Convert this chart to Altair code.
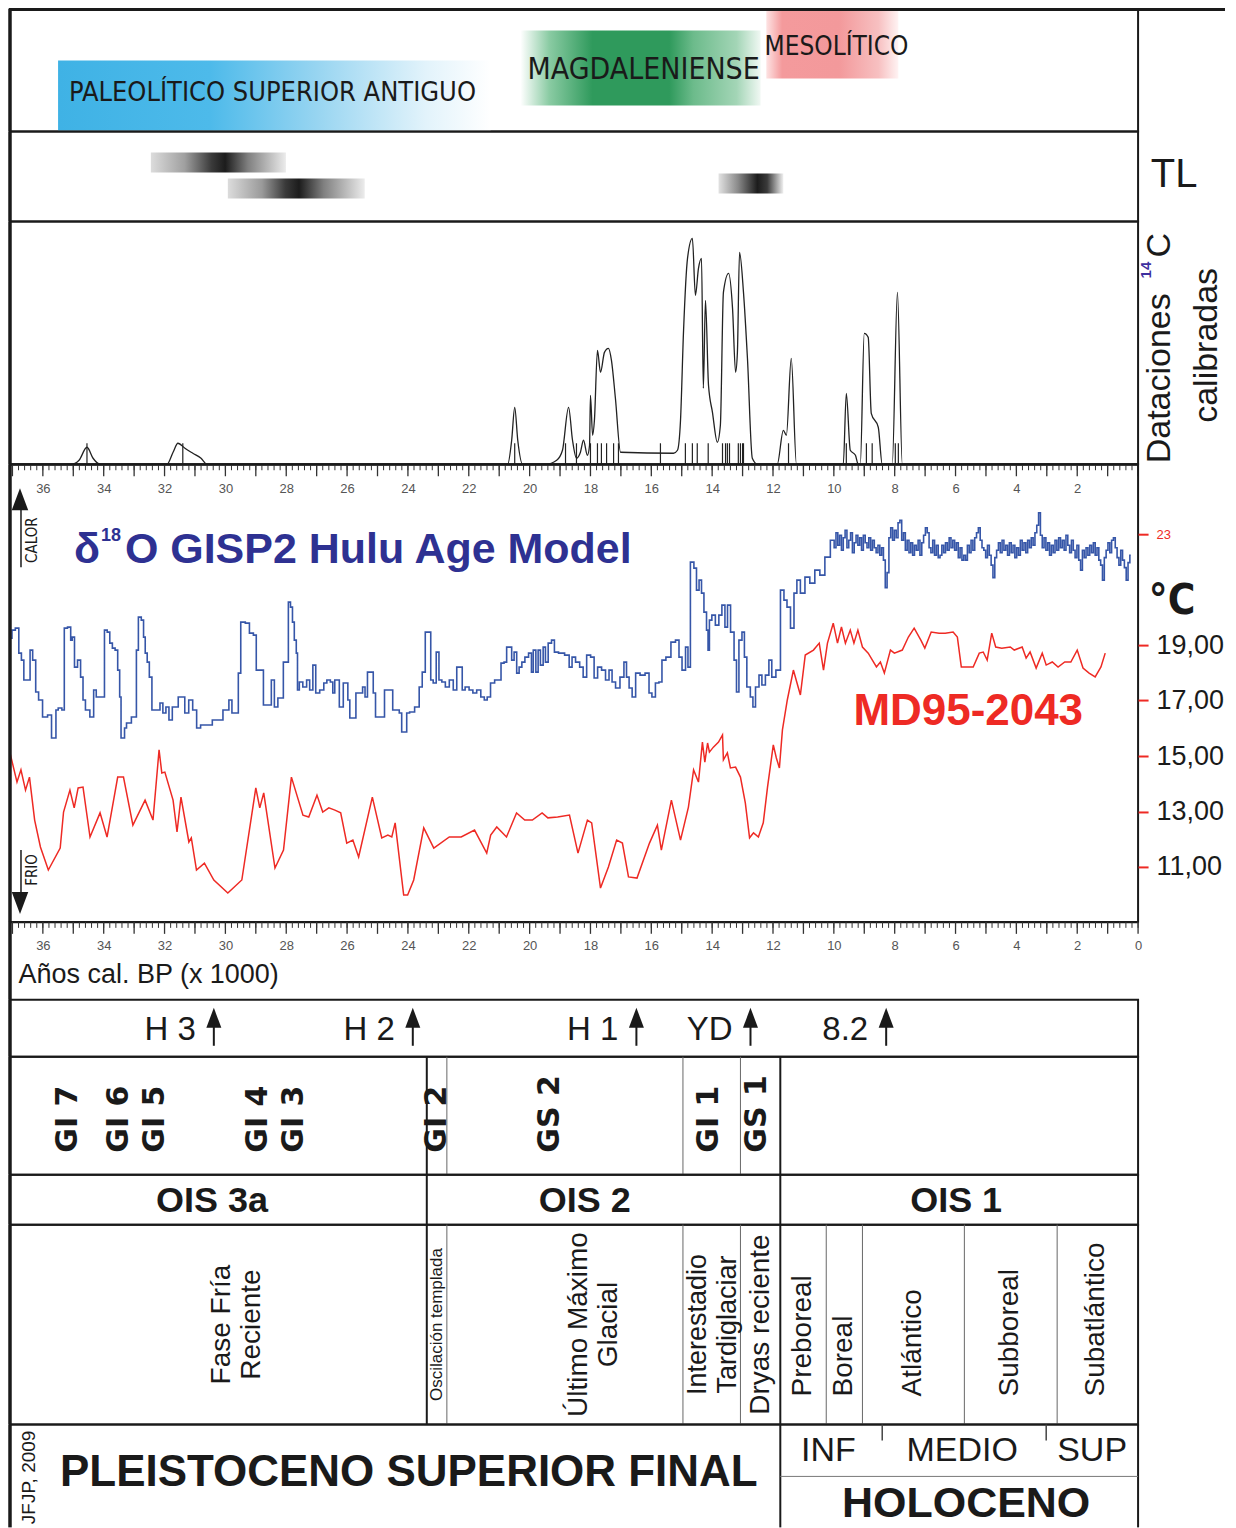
import altair as alt
import pandas as pd

# ------------------------------------------------------------------ data
AGE_DOMAIN = [0, 37.08]                      # ka cal BP
AXIS_LABELS_TOP = [36, 34, 32, 30, 28, 26, 24, 22, 20, 18, 16, 14, 12, 10, 8, 6, 4, 2]
AXIS_LABELS_BOTTOM = AXIS_LABELS_TOP + [0]
MINOR_TICKS = [round(0.2 * i, 1) for i in range(186)]
MAJOR_TICKS = list(range(38))

CULT_NAMES = ["PALEOLÍTICO SUPERIOR ANTIGUO", "MAGDALENIENSE", "MESOLÍTICO"]
CULT_START = [35.50, 20.30, 12.22]
CULT_END = [21.28, 12.41, 7.88]
CULT_LABEL_AGE = [35.14, 20.07, 12.28]

TL_START = [32.45, 29.92, 13.79]
TL_END = [28.01, 25.42, 11.66]

C14_CURVE = [(37.08, 0), (35.04, 0), (34.81, 4), (34.55, 17), (34.35, 6), (34.12, 0), (31.92, 0),
             (31.72, 12), (31.56, 21), (31.33, 16), (31.07, 11), (30.80, 6), (30.61, 0), (20.72, 0),
             (20.59, 24), (20.49, 57), (20.39, 24), (20.23, 0), (19.47, 0), (19.11, 4), (18.92, 14),
             (18.72, 57), (18.59, 24), (18.46, 6), (18.33, 12), (18.23, 24), (18.10, 9), (18.03, 19),
             (18.00, 69), (17.93, 29), (17.87, 44), (17.77, 114), (17.67, 92), (17.54, 112), (17.41, 116),
             (17.31, 104), (17.18, 66), (17.01, 12), (15.27, 11), (15.14, 14), (15.04, 44), (14.94, 134),
             (14.81, 206), (14.65, 226), (14.55, 169), (14.45, 196), (14.35, 206), (14.29, 76), (14.22, 164),
             (14.12, 79), (13.99, 52), (13.83, 22), (13.73, 39), (13.63, 172), (13.46, 191), (13.33, 156),
             (13.23, 92), (13.17, 112), (13.10, 212), (12.97, 172), (12.84, 106), (12.68, 6), (12.51, 0),
             (11.86, 0), (11.66, 34), (11.56, 29), (11.40, 106), (11.23, 0), (9.69, 0), (9.59, 71),
             (9.46, 14), (9.29, 9), (9.20, 0), (9.13, 0), (9.00, 131), (8.87, 127), (8.77, 51), (8.54, 37),
             (8.41, 0), (8.08, 0), (7.91, 172), (7.75, 0), (0.0, 0)]
C14_DATES = [34.55, 31.40, 20.49, 18.82, 18.46, 18.00, 17.77, 17.64, 17.47, 17.24, 17.08, 15.70, 14.88,
             14.65, 14.49, 14.13, 13.66, 13.56, 13.50, 13.43, 13.14, 13.07, 13.00, 12.97, 11.49, 9.59,
             8.93, 8.74, 7.98, 7.88]

MD95_SST = [(37.08, 15.11), (36.85, 14.06), (36.72, 14.50), (36.57, 13.77), (36.44, 14.24), (36.27, 12.69),
            (36.08, 11.72), (35.82, 10.89), (35.43, 11.68), (35.32, 12.98), (35.11, 13.77), (34.97, 13.13),
            (34.84, 13.85), (34.68, 13.88), (34.45, 12.08), (34.12, 12.95), (33.89, 12.08), (33.54, 14.24),
            (33.35, 14.24), (33.04, 12.51), (32.64, 13.41), (32.38, 12.69), (32.18, 15.22), (32.09, 14.39),
            (31.99, 14.42), (31.72, 13.41), (31.59, 12.26), (31.46, 13.52), (31.20, 11.90), (31.12, 12.05),
            (30.95, 10.89), (30.69, 11.14), (30.38, 10.53), (29.92, 10.06), (29.46, 10.53), (29.00, 13.85),
            (28.87, 13.13), (28.74, 13.67), (28.37, 10.96), (28.09, 11.61), (27.83, 14.24), (27.45, 12.87),
            (27.26, 12.80), (26.99, 13.59), (26.80, 12.98), (26.60, 13.13), (26.40, 13.05), (26.21, 12.95),
            (26.01, 11.86), (25.81, 11.97), (25.62, 11.36), (25.17, 13.52), (24.86, 12.05), (24.66, 12.15),
            (24.53, 12.08), (24.42, 12.59), (24.14, 9.99), (24.01, 9.99), (23.81, 10.53), (23.48, 12.41),
            (23.15, 11.68), (22.64, 12.08), (22.25, 12.08), (21.81, 12.33), (21.41, 11.50), (21.28, 12.15),
            (21.08, 12.44), (20.76, 12.08), (20.43, 12.95), (20.16, 12.69), (19.91, 12.69), (19.59, 12.95),
            (19.40, 12.77), (19.08, 12.80), (18.69, 12.87), (18.41, 11.50), (18.10, 12.69), (17.96, 12.59),
            (17.67, 10.24), (17.41, 11.00), (17.14, 11.97), (16.95, 11.86), (16.75, 10.64), (16.47, 10.60),
            (16.06, 11.86), (15.80, 12.51), (15.67, 11.61), (15.34, 13.41), (15.04, 11.97), (14.78, 13.16),
            (14.61, 14.50), (14.45, 14.06), (14.32, 15.50), (14.24, 14.78), (14.15, 15.47), (14.09, 15.14),
            (13.96, 15.32), (13.79, 15.50), (13.66, 15.76), (13.63, 14.86), (13.50, 15.11), (13.40, 14.57),
            (13.23, 14.60), (13.07, 14.24), (12.91, 13.31), (12.77, 12.05), (12.64, 12.23), (12.48, 12.08),
            (12.32, 12.59), (12.18, 13.88), (11.99, 15.40), (11.89, 14.93), (11.79, 14.57), (11.69, 15.94),
            (11.53, 17.02), (11.33, 18.10), (11.10, 17.20), (10.94, 18.64), (10.67, 18.82), (10.48, 19.07),
            (10.34, 18.10), (10.21, 19.07), (10.02, 19.79), (9.88, 19.07), (9.75, 19.65), (9.62, 19.07),
            (9.46, 19.54), (9.34, 19.07), (9.21, 19.54), (9.06, 18.93), (8.87, 18.71), (8.60, 18.21),
            (8.47, 18.39), (8.34, 17.99), (8.14, 18.82), (8.01, 18.71), (7.75, 18.82), (7.55, 19.29),
            (7.36, 19.61), (7.14, 19.18), (7.01, 18.89), (6.80, 19.47), (6.54, 19.43), (6.34, 19.43),
            (6.08, 19.47), (5.94, 19.29), (5.81, 18.21), (5.62, 18.21), (5.42, 18.21), (5.22, 18.71),
            (5.09, 18.75), (4.96, 18.46), (4.81, 19.43), (4.68, 18.93), (4.48, 18.89), (4.20, 18.93),
            (4.07, 18.82), (3.81, 18.93), (3.68, 18.53), (3.55, 18.75), (3.35, 18.17), (3.15, 18.71),
            (3.02, 18.28), (2.82, 18.39), (2.63, 18.21), (2.41, 18.39), (2.21, 18.39), (2.00, 18.82),
            (1.81, 18.17), (1.61, 17.99), (1.41, 17.85), (1.22, 18.21), (1.08, 18.71)]

GISP2_GLACIAL = [(37.05, -38.52), (36.98, -38.20), (36.83, -38.12), (36.75, -39.12), (36.66, -39.40),
                 (36.59, -40.20), (36.44, -40.20), (36.40, -39.00), (36.27, -39.40), (36.20, -40.68),
                 (36.08, -41.00), (35.94, -41.68), (35.75, -41.60), (35.68, -42.52), (35.58, -42.52),
                 (35.56, -41.40), (35.43, -41.32), (35.32, -41.40), (35.27, -38.12), (35.11, -38.08),
                 (35.06, -38.60), (35.01, -38.48), (34.91, -39.68), (34.81, -39.40), (34.71, -40.08),
                 (34.65, -41.00), (34.55, -41.40), (34.36, -41.68), (34.30, -40.60), (34.19, -40.88),
                 (34.02, -40.88), (33.93, -38.20), (33.84, -38.28), (33.76, -38.72), (33.67, -38.92),
                 (33.58, -39.00), (33.50, -39.80), (33.45, -40.88), (33.41, -42.52), (33.35, -42.52),
                 (33.28, -42.12), (33.22, -41.92), (32.96, -41.68), (32.89, -39.00), (32.83, -37.68),
                 (32.70, -37.80), (32.68, -38.48), (32.59, -39.12), (32.55, -39.48), (32.45, -40.08),
                 (32.38, -41.40), (32.18, -41.40), (32.12, -41.12), (31.99, -41.52), (31.92, -41.28),
                 (31.79, -41.80), (31.70, -41.28), (31.40, -40.88), (31.27, -41.52), (31.14, -41.00),
                 (31.01, -41.40), (30.88, -42.12), (30.75, -42.00), (30.11, -41.80), (30.05, -41.40),
                 (29.92, -41.40), (29.85, -41.00), (29.72, -41.52), (29.59, -41.52), (29.56, -39.92),
                 (29.43, -37.88), (29.26, -37.92), (29.16, -38.32), (29.00, -38.40), (28.97, -39.80),
                 (28.80, -39.80), (28.70, -41.20), (28.54, -41.20), (28.44, -40.20), (28.34, -41.28),
                 (28.21, -40.92), (28.14, -40.92), (28.05, -39.48), (27.96, -39.48), (27.90, -37.08),
                 (27.82, -37.28), (27.77, -37.88), (27.70, -38.60), (27.64, -39.12), (27.62, -40.60),
                 (27.52, -40.28), (27.39, -40.48), (27.27, -40.20), (27.19, -40.60), (27.06, -39.60),
                 (27.00, -40.72), (26.80, -40.60), (26.73, -40.32), (26.60, -40.20), (26.50, -40.28),
                 (26.44, -40.72), (26.37, -40.20), (26.27, -40.20), (26.24, -41.28), (26.14, -41.28),
                 (26.11, -40.32), (26.01, -40.32), (25.94, -41.00), (25.88, -41.72), (25.75, -41.72),
                 (25.67, -40.72), (25.53, -40.72), (25.45, -40.48), (25.37, -40.88), (25.29, -39.88),
                 (25.17, -39.88), (25.11, -40.72), (25.02, -41.68), (24.81, -41.68), (24.73, -40.60),
                 (24.53, -40.60), (24.47, -41.40), (24.33, -41.40), (24.24, -41.52), (24.17, -42.28),
                 (24.07, -42.28), (24.01, -41.52), (23.88, -41.48), (23.68, -41.28), (23.58, -40.48),
                 (23.48, -39.88), (23.38, -38.28), (23.28, -38.28), (23.22, -40.20), (23.12, -40.32),
                 (23.02, -39.08), (22.94, -40.20), (22.83, -40.28), (22.71, -40.48), (22.57, -40.20),
                 (22.45, -40.60), (22.34, -39.68), (22.25, -39.68), (22.18, -40.60), (22.06, -40.48),
                 (21.92, -40.60), (21.81, -40.72), (21.67, -40.60), (21.54, -40.88), (21.44, -41.00),
                 (21.35, -40.88), (21.22, -40.32), (21.08, -40.20), (20.99, -40.20), (20.89, -39.52),
                 (20.79, -39.48), (20.72, -38.88), (20.62, -38.88), (20.56, -39.40), (20.46, -39.08),
                 (20.39, -39.92), (20.30, -39.68), (20.21, -39.48), (20.10, -39.28), (19.97, -39.12),
                 (19.91, -39.88), (19.85, -39.00), (19.74, -39.88), (19.70, -39.00), (19.59, -39.60),
                 (19.52, -38.88), (19.44, -39.48), (19.34, -38.72), (19.22, -38.60), (19.15, -39.08),
                 (18.95, -39.12), (18.75, -39.20), (18.65, -39.68), (18.56, -39.28), (18.42, -39.48),
                 (18.29, -39.68), (18.19, -40.08), (18.06, -39.20), (17.93, -39.28), (17.83, -40.12),
                 (17.70, -39.68), (17.57, -39.80), (17.44, -40.20), (17.34, -39.80), (17.24, -40.28),
                 (17.11, -40.52), (16.95, -40.08), (16.85, -39.48), (16.78, -40.08), (16.68, -40.52),
                 (16.58, -40.88), (16.45, -39.92), (16.29, -40.00), (16.12, -39.92), (16.03, -40.72),
                 (15.93, -40.88), (15.80, -40.32), (15.70, -40.28), (15.60, -39.40), (15.44, -39.28),
                 (15.27, -38.68), (15.14, -38.60), (15.04, -39.28), (14.94, -39.80), (14.81, -38.88),
                 (14.78, -39.68), (14.65, -35.48), (14.55, -35.72), (14.48, -36.60), (14.38, -36.20),
                 (14.32, -36.72), (14.22, -37.48), (14.15, -38.20), (14.12, -39.00), (14.06, -37.80),
                 (13.96, -37.60), (13.83, -38.00), (13.73, -37.60), (13.63, -37.20), (13.53, -38.08),
                 (13.46, -37.20), (13.33, -38.28), (13.23, -39.40), (13.17, -40.68), (13.07, -38.60),
                 (12.97, -38.28), (12.91, -39.28), (12.81, -40.48), (12.68, -40.88), (12.64, -41.28),
                 (12.51, -40.48), (12.41, -40.00), (12.32, -40.40), (12.18, -40.00), (12.09, -39.40),
                 (11.99, -40.08), (11.82, -39.80), (11.69, -36.60), (11.59, -37.00), (11.49, -37.28),
                 (11.36, -38.12), (11.26, -36.72), (11.17, -36.20), (11.03, -36.72), (10.87, -36.08),
                 (10.71, -36.32), (10.54, -35.80), (10.38, -36.00), (10.21, -35.28), (10.02, -34.60)]

GISP2_HOLOCENE = [(9.96, -34.9), (9.90, -34.3), (9.84, -34.8), (9.78, -34.4), (9.72, -35.0), (9.66, -34.5),
                  (9.60, -34.2), (9.54, -34.9), (9.48, -34.6), (9.42, -34.3), (9.36, -35.1), (9.30, -34.7),
                  (9.24, -34.4), (9.18, -34.8), (9.12, -34.5), (9.06, -35.0), (9.00, -34.4), (8.94, -34.7),
                  (8.88, -34.9), (8.82, -34.5), (8.76, -35.0), (8.70, -34.6), (8.64, -34.9), (8.58, -35.1),
                  (8.52, -34.8), (8.46, -35.2), (8.40, -34.9), (8.34, -35.4), (8.28, -36.5), (8.22, -35.9),
                  (8.16, -34.5), (8.10, -34.1), (8.04, -34.6), (7.98, -34.2), (7.92, -34.5), (7.86, -33.9),
                  (7.80, -33.8), (7.74, -34.6), (7.68, -34.3), (7.62, -35.0), (7.56, -34.6), (7.50, -35.1),
                  (7.44, -34.7), (7.38, -35.2), (7.32, -34.8), (7.26, -35.0), (7.20, -34.6), (7.14, -35.2),
                  (7.08, -34.7), (7.02, -34.4), (6.96, -34.1), (6.90, -34.3), (6.84, -34.9), (6.78, -35.1),
                  (6.72, -34.6), (6.66, -35.2), (6.60, -34.8), (6.54, -35.3), (6.48, -35.2), (6.42, -34.8),
                  (6.36, -35.1), (6.30, -34.7), (6.24, -35.0), (6.18, -34.5), (6.12, -34.9), (6.06, -34.6),
                  (6.00, -35.0), (5.94, -34.7), (5.88, -35.3), (5.82, -34.9), (5.76, -35.4), (5.70, -35.2),
                  (5.64, -35.4), (5.58, -34.8), (5.52, -35.1), (5.46, -34.6), (5.40, -35.0), (5.34, -34.5),
                  (5.28, -34.3), (5.22, -34.1), (5.16, -34.6), (5.10, -34.9), (5.04, -35.0), (4.98, -35.3),
                  (4.92, -34.8), (4.86, -35.2), (4.80, -35.6), (4.74, -36.1), (4.68, -35.3), (4.62, -35.0),
                  (4.56, -34.7), (4.50, -35.1), (4.44, -34.6), (4.38, -35.0), (4.32, -34.8), (4.26, -35.2),
                  (4.20, -34.7), (4.14, -35.1), (4.08, -34.8), (4.02, -35.3), (3.96, -34.9), (3.90, -35.2),
                  (3.84, -34.6), (3.78, -35.0), (3.72, -34.7), (3.66, -35.1), (3.60, -34.6), (3.54, -34.9),
                  (3.48, -34.5), (3.42, -34.8), (3.36, -34.3), (3.30, -34.0), (3.24, -33.5), (3.18, -34.4),
                  (3.12, -34.9), (3.06, -34.5), (3.00, -35.0), (2.94, -34.7), (2.88, -35.2), (2.82, -34.8),
                  (2.76, -35.1), (2.70, -34.6), (2.64, -35.0), (2.58, -34.5), (2.52, -34.9), (2.46, -34.6),
                  (2.40, -35.0), (2.34, -34.4), (2.28, -34.8), (2.22, -35.1), (2.16, -34.6), (2.10, -35.0),
                  (2.04, -35.3), (1.98, -34.8), (1.92, -35.4), (1.86, -35.8), (1.80, -35.0), (1.74, -35.3),
                  (1.68, -34.9), (1.62, -35.2), (1.56, -34.8), (1.50, -35.1), (1.44, -34.7), (1.38, -35.2),
                  (1.32, -34.9), (1.26, -35.4), (1.20, -35.6), (1.14, -36.2), (1.08, -35.3), (1.02, -35.0),
                  (0.96, -34.7), (0.90, -35.1), (0.84, -34.6), (0.78, -34.5), (0.72, -34.9), (0.66, -35.3),
                  (0.60, -35.6), (0.54, -35.0), (0.48, -35.4), (0.42, -35.7), (0.36, -36.2), (0.30, -35.5),
                  (0.24, -35.2)]

TEMP_TICKS = [11, 13, 15, 17, 19, 23]

EVENT_NAMES = ["H 3", "H 2", "H 1", "YD", "8.2"]
EVENT_AGES = [30.38, 23.84, 16.49, 12.74, 8.28]

GI_NAMES = ["GI 7", "GI 6", "GI 5", "GI 4", "GI 3", "GI 2", "GS 2", "GI 1", "GS 1"]
GI_AGES = [35.17, 33.50, 32.32, 28.93, 27.75, 23.05, 19.34, 14.09, 12.51]

OIS_NAMES = ["OIS 3a", "OIS 2", "OIS 1"]
OIS_LABEL_AGE = [30.44, 18.19, 5.98]
OIS_BOUNDS = [23.38, 11.76]
STAGE_THIN = [22.72, 14.96, 13.07]
HOLO_PHASE_BOUNDS = [10.25, 9.06, 5.71, 2.66]

PLEI_PHASES = ["Fase Fría\nReciente", "Oscilación templada", "Último Máximo\nGlacial",
               "Interestadio\nTardiglaciar", "Dryas reciente"]
PLEI_PHASE_AGE = [30.12, 23.03, 18.39, 14.48, 12.40]     # position of the first text line
PLEI_PHASE_SIZE = [28, 17, 28, 27, 28]
HOLO_PHASES = ["Preboreal", "Boreal", "Atlántico", "Subboreal", "Subatlántico"]
HOLO_PHASE_AGE = [11.00, 9.66, 7.39, 4.20, 1.38]

HOLO_SUB = ["INF", "MEDIO", "SUP"]
HOLO_SUB_AGE = [10.18, 5.78, 1.51]
HOLO_SUB_BOUNDS = [8.41, 3.02]

# ------------------------------------------------------------------ style helpers
FONT = "Liberation Sans, Arial, Helvetica, sans-serif"
NARROW = "Liberation Sans Narrow, Arial Narrow, DejaVu Sans Condensed, sans-serif"
WIDEBOLD = "DejaVu Sans, Verdana, sans-serif"
INK = "#1a1a1a"
RED = "#ee2a24"
BLUE = "#3656a8"
W = 1129
XS = alt.Scale(domain=AGE_DOMAIN, reverse=True, nice=False, zero=False)
ONE = pd.DataFrame({"k": [0]})
ARROW_UP = "M0,-1L0.75,1L-0.75,1Z"
ARROW_DOWN = "M0,1L0.75,-1L-0.75,-1Z"


def xq(field, axis=None):
    return alt.X(field, type="quantitative", scale=XS, axis=axis)


def left_border(h):
    return alt.Chart(ONE).mark_rule(color=INK, strokeWidth=3.5).encode(
        x=alt.value(0), y=alt.value(0), y2=alt.value(h))


def vlines(ages, y0, y1, width, color):
    return alt.Chart(pd.DataFrame({"age": ages})).mark_rule(color=color, strokeWidth=width).encode(
        x=xq("age"), y=alt.value(y0), y2=alt.value(y1))


def label(text, x, y, **kw):
    return alt.Chart(ONE).mark_text(text=text, **kw).encode(x=alt.value(x), y=alt.value(y))


def grad(stops):
    return alt.LinearGradient(gradient="linear",
                              stops=[alt.GradientStop(color=c, offset=o) for o, c in stops],
                              x1=0, x2=1, y1=0, y2=0)


def tick_rules(h, axis):
    minor = alt.Chart(pd.DataFrame({"age": MINOR_TICKS})).mark_rule(color="#333", strokeWidth=1).encode(
        x=xq("age", axis), y=alt.value(h), y2=alt.value(h + 6))
    major = alt.Chart(pd.DataFrame({"age": MAJOR_TICKS})).mark_rule(color="#333", strokeWidth=1.3).encode(
        x=xq("age", axis), y=alt.value(h), y2=alt.value(h + 12))
    return [minor, major]


H = [123, 90, 243, 458, 78, 57, 118, 50, 200, 103]

# ------------------------------------------------------------------ P1 cultures
cult = pd.DataFrame({"name": CULT_NAMES, "start": CULT_START, "end": CULT_END, "lab": CULT_LABEL_AGE})
CULT_STYLE = [
    (52, 122, [(0, "#3fb2e5"), (0.35, "#4dbaea"), (0.6, "#98d5f1"), (0.85, "#e2f3fb"), (1, "#ffffff")], 84, 27),
    (22, 97, [(0, "#ffffff"), (0.12, "#8acba3"), (0.3, "#2f9a5c"), (0.62, "#2f9a5c"), (0.72, "#6cbb8b"),
              (0.9, "#a3d5b6"), (1, "#f0f8f3")], 61, 30),
    (2, 70, [(0, "#fde3e3"), (0.12, "#f49a9c"), (0.55, "#f3999b"), (0.85, "#f7c0c1"), (1, "#fff3f3")], 38, 26),
]
p1_layers = []
for i, (y0, y1, stops, ty, fs) in enumerate(CULT_STYLE):
    p1_layers.append(alt.Chart(cult.iloc[[i]]).mark_rect(fill=grad(stops)).encode(
        x=xq("start"), x2="end", y=alt.value(y0), y2=alt.value(y1)))
for i, (y0, y1, stops, ty, fs) in enumerate(CULT_STYLE):
    p1_layers.append(alt.Chart(cult.iloc[[i]]).mark_text(align="left", baseline="middle", font=NARROW,
                                                          fontSize=fs, color=INK).encode(
        x=xq("lab"), y=alt.value(ty), text="name:N"))
p1_layers.append(alt.Chart(ONE).mark_rule(color=INK, strokeWidth=3).encode(
    x=alt.value(0), x2=alt.value(W + 87), y=alt.value(1)))
p1_layers.append(left_border(H[0]))
p1 = alt.layer(*p1_layers).properties(width=W, height=H[0])

# ------------------------------------------------------------------ P2 TL
tl = pd.DataFrame({"start": TL_START, "end": TL_END})
TL_STYLE = [
    (21, 41, [(0, "#dcdcdc"), (0.25, "#a0a0a0"), (0.45, "#3a3a3a"), (0.55, "#1c1c1c"), (0.72, "#808080"), (1, "#ececec")]),
    (47, 67, [(0, "#dcdcdc"), (0.25, "#9a9a9a"), (0.42, "#3a3a3a"), (0.52, "#1c1c1c"), (0.7, "#808080"), (1, "#ececec")]),
    (42, 62, [(0, "#e2e2e2"), (0.3, "#8a8a8a"), (0.6, "#1c1c1c"), (0.75, "#3a3a3a"), (1, "#f0f0f0")]),
]
p2_layers = []
for i, (y0, y1, stops) in enumerate(TL_STYLE):
    p2_layers.append(alt.Chart(tl.iloc[[i]]).mark_rect(fill=grad(stops)).encode(
        x=xq("start"), x2="end", y=alt.value(y0), y2=alt.value(y1)))
p2_layers.append(label("TL", 1165, 44, font=FONT, fontSize=40, color=INK, align="center", baseline="middle"))
p2_layers.append(left_border(H[1]))
p2 = alt.layer(*p2_layers).properties(width=W, height=H[1])

# ------------------------------------------------------------------ P3 14C
c14 = pd.DataFrame(C14_CURVE, columns=["age", "dens"])
dates = pd.DataFrame({"age": C14_DATES})
dates["lo"] = 0
dates["hi"] = 21
DS = alt.Scale(domain=[0, 243], nice=False, zero=False)
AX3 = alt.Axis(values=AXIS_LABELS_TOP, format="d", ticks=False, tickSize=0, domainColor=INK, domainWidth=2,
               labelFont=FONT, labelFontSize=13, labelColor="#555", labelPadding=18, grid=False, title=None,
               orient="bottom", labelFlush=False, labelOverlap=False)
c14_line = alt.Chart(c14).mark_line(color="#222", strokeWidth=1.3, interpolate="monotone").encode(
    x=xq("age", AX3), y=alt.Y("dens:Q", scale=DS, axis=None),
    order=alt.Order("age:Q", sort="descending"))
c14_dates = alt.Chart(dates).mark_rule(color="#222", strokeWidth=1.2).encode(
    x=xq("age", AX3), y=alt.Y("lo:Q", scale=DS, axis=None), y2="hi:Q")
p3_layers = [c14_line, c14_dates] + tick_rules(H[2], AX3) + [
    label("Dataciones", 1151, 242, angle=270, align="left", baseline="middle", font=FONT, fontSize=34, color=INK),
    label("14", 1137, 57, angle=270, align="left", baseline="middle", font=FONT, fontSize=15,
          fontWeight="bold", color="#3d2f9e"),
    label("C", 1151, 36, angle=270, align="left", baseline="middle", font=FONT, fontSize=34, color=INK),
    label("calibradas", 1198, 124, angle=270, align="center", baseline="middle", font=FONT, fontSize=34, color=INK),
    left_border(H[2]),
]
p3 = alt.layer(*p3_layers).properties(width=W, height=H[2])

# ------------------------------------------------------------------ P4 climate
md = pd.DataFrame(MD95_SST, columns=["age", "sst"])
gisp = pd.DataFrame(GISP2_GLACIAL + GISP2_HOLOCENE, columns=["age", "d18o"])
TS = alt.Scale(domain=[9.02, 25.52], nice=False, zero=False)
OS = alt.Scale(domain=[-49.88, -31.56], nice=False, zero=False)
AX4 = alt.Axis(values=AXIS_LABELS_BOTTOM, format="d", ticks=False, tickSize=0, domainColor=INK, domainWidth=2,
               labelFont=FONT, labelFontSize=13, labelColor="#555", labelPadding=18, grid=False,
               title="Años cal. BP (x 1000)", titleFont=FONT, titleFontSize=27, titleFontWeight="normal",
               titleColor=INK, titleAnchor="start", titleAlign="left", titleBaseline="middle",
               titleX=8, titleY=53, orient="bottom", labelFlush=False, labelOverlap=False)
AX4Y = alt.Axis(orient="right", values=TEMP_TICKS,
                labelExpr="datum.value == 23 ? '23' : replace(format(datum.value, '.2f'), '.', ',')",
                labelFontSize={"condition": {"test": "datum.value == 23", "value": 13}, "value": 27},
                labelColor={"condition": {"test": "datum.value == 23", "value": RED}, "value": INK},
                labelFont=FONT, tickColor=RED, tickSize=10, tickWidth=2, labelPadding=8, domain=False,
                grid=False, title=None, labelOverlap=False)
red = alt.Chart(md).mark_line(color=RED, strokeWidth=1.5).encode(
    x=xq("age", AX4), y=alt.Y("sst:Q", scale=TS, axis=AX4Y), order=alt.Order("age:Q", sort="descending"))
blue = alt.Chart(gisp).mark_line(color=BLUE, strokeWidth=1.6, interpolate="step").encode(
    x=xq("age", AX4), y=alt.Y("d18o:Q", scale=OS, axis=None), order=alt.Order("age:Q", sort="descending"))
BT = "#2e3192"
p4_layers = [red, blue] + tick_rules(H[3], AX4) + [
    label("δ", 64, 86, align="left", baseline="middle", font=FONT, fontSize=43, fontWeight="bold", color=BT),
    label("18", 91, 72, align="left", baseline="middle", font=FONT, fontSize=18, fontWeight="bold", color=BT),
    label("O GISP2 Hulu Age Model", 115, 86, align="left", baseline="middle", font=FONT, fontSize=43,
          fontWeight="bold", color=BT),
    label("MD95-2043", 959, 248, align="center", baseline="middle", font=FONT, fontSize=44,
          fontWeight="bold", color=RED),
    label("°C", 1163, 137, align="center", baseline="middle", font=NARROW, fontSize=42, fontWeight="bold",
          color=INK),
    label("CALOR", 22, 76, angle=270, align="center", baseline="middle", font=NARROW, fontSize=15, color=INK),
    label("FRIO", 22, 406, angle=270, align="center", baseline="middle", font=NARROW, fontSize=15, color=INK),
    alt.Chart(ONE).mark_point(shape=ARROW_UP, filled=True, size=484, color=INK, opacity=1).encode(
        x=alt.value(10), y=alt.value(35)),
    alt.Chart(ONE).mark_point(shape=ARROW_DOWN, filled=True, size=484, color=INK, opacity=1).encode(
        x=alt.value(10), y=alt.value(439)),
    alt.Chart(ONE).mark_rule(color=INK, strokeWidth=1.5).encode(x=alt.value(11), y=alt.value(40), y2=alt.value(103)),
    alt.Chart(ONE).mark_rule(color=INK, strokeWidth=1.5).encode(x=alt.value(11), y=alt.value(386), y2=alt.value(432)),
    left_border(H[3]),
]
p4 = alt.layer(*p4_layers).resolve_scale(y="independent").properties(width=W, height=H[3])

# ------------------------------------------------------------------ P5 spacer
p5 = alt.layer(left_border(H[4])).properties(width=W, height=H[4],
                                             view=alt.ViewBackground(stroke="transparent"))

# ------------------------------------------------------------------ P6 events
ev = pd.DataFrame({"name": EVENT_NAMES, "age": EVENT_AGES})
p6 = alt.layer(
    alt.Chart(ev).mark_text(align="right", baseline="middle", dx=-18, font=FONT, fontSize=33, color=INK).encode(
        x=xq("age"), y=alt.value(30), text="name:N"),
    alt.Chart(ev).mark_point(shape=ARROW_UP, filled=True, size=400, color=INK, opacity=1).encode(
        x=xq("age"), y=alt.value(18)),
    alt.Chart(ev).mark_rule(color=INK, strokeWidth=2).encode(x=xq("age"), y=alt.value(24), y2=alt.value(46)),
    left_border(H[5]),
).properties(width=W, height=H[5])

# ------------------------------------------------------------------ P7 GI / GS
gi = pd.DataFrame({"name": GI_NAMES, "age": GI_AGES})
p7 = alt.layer(
    vlines(OIS_BOUNDS, 0, H[6], 2, INK),
    vlines(STAGE_THIN, 0, H[6], 1, "#666"),
    alt.Chart(gi).mark_text(angle=270, align="left", baseline="middle", font=WIDEBOLD, fontWeight="bold",
                            fontSize=30, color=INK).encode(x=xq("age"), y=alt.value(96), text="name:N"),
    left_border(H[6]),
).properties(width=W, height=H[6])

# ------------------------------------------------------------------ P8 OIS
ois = pd.DataFrame({"name": OIS_NAMES, "age": OIS_LABEL_AGE})
p8 = alt.layer(
    vlines(OIS_BOUNDS, 0, H[7], 2, INK),
    alt.Chart(ois).mark_text(align="center", baseline="middle", font=FONT, fontWeight="bold", fontSize=36,
                             color=INK).encode(x=xq("age"), y=alt.value(26), text="name:N"),
    left_border(H[7]),
).properties(width=W, height=H[7])

# ------------------------------------------------------------------ P9 phases
plei = pd.DataFrame({"name": PLEI_PHASES, "age": PLEI_PHASE_AGE, "fs": PLEI_PHASE_SIZE})
holo = pd.DataFrame({"name": HOLO_PHASES, "age": HOLO_PHASE_AGE})
p9 = alt.layer(
    vlines(OIS_BOUNDS, 0, H[8], 2, INK),
    vlines(STAGE_THIN + HOLO_PHASE_BOUNDS, 0, H[8], 1, "#666"),
    alt.Chart(plei).mark_text(angle=270, align="center", baseline="middle", font=FONT, color=INK,
                              lineBreak="\n", lineHeight=30).encode(
        x=xq("age"), y=alt.value(100), text="name:N", size=alt.Size("fs:Q", scale=None)),
    alt.Chart(holo).mark_text(angle=270, align="left", baseline="middle", font=FONT, fontSize=28,
                              color=INK).encode(x=xq("age"), y=alt.value(172), text="name:N"),
    left_border(H[8]),
).properties(width=W, height=H[8])

# ------------------------------------------------------------------ P10 epochs
sub = pd.DataFrame({"name": HOLO_SUB, "age": HOLO_SUB_AGE})
span = pd.DataFrame({"a": [OIS_BOUNDS[1]], "b": [0.0]})
ep1 = pd.DataFrame({"name": ["PLEISTOCENO SUPERIOR FINAL"], "age": [23.97]})
ep2 = pd.DataFrame({"name": ["HOLOCENO"], "age": [5.65]})
p10 = alt.layer(
    alt.Chart(ONE).mark_rule(color=INK, strokeWidth=2).encode(x=alt.value(0), x2=alt.value(W), y=alt.value(0)),
    alt.Chart(ONE).mark_rule(color=INK, strokeWidth=2).encode(x=alt.value(W), y=alt.value(0), y2=alt.value(H[9])),
    vlines([OIS_BOUNDS[1]], 0, H[9], 2, INK),
    vlines(HOLO_SUB_BOUNDS, 0, 16, 1.5, "#444"),
    alt.Chart(span).mark_rule(color="#777", strokeWidth=1).encode(x=xq("a"), x2="b", y=alt.value(52)),
    alt.Chart(sub).mark_text(align="center", baseline="middle", font=FONT, fontSize=34, color=INK).encode(
        x=xq("age"), y=alt.value(27), text="name:N"),
    alt.Chart(ep1).mark_text(align="center", baseline="middle", font=FONT, fontSize=44, fontWeight="bold",
                             color=INK).encode(x=xq("age"), y=alt.value(49), text="name:N"),
    alt.Chart(ep2).mark_text(align="center", baseline="middle", font=FONT, fontSize=43, fontWeight="bold",
                             color=INK).encode(x=xq("age"), y=alt.value(80), text="name:N"),
    label("JFJP, 2009", 19, 53, angle=270, align="center", baseline="middle", font=FONT, fontSize=19, color=INK),
    left_border(H[9]),
).properties(width=W, height=H[9], view=alt.ViewBackground(stroke="transparent"))

chart = alt.vconcat(p1, p2, p3, p4, p5, p6, p7, p8, p9, p10, spacing=0, bounds="flush").properties(
    padding={"left": -2, "top": -3, "right": 0, "bottom": 0}, background="white"
).configure_view(stroke=INK, strokeWidth=2).configure_axis(grid=False)

chart.save("out.html", embed_options={"renderer": "svg", "actions": False})
